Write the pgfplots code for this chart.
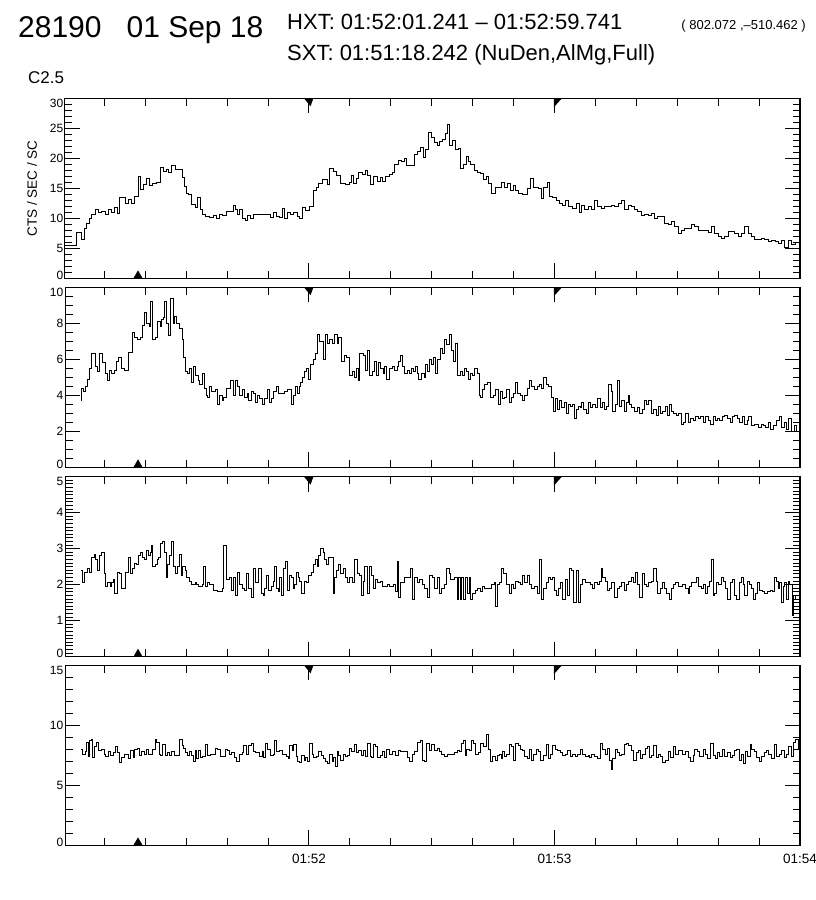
\documentclass[border=0pt]{standalone}
\usepackage{fontspec}
\setmainfont{Liberation Sans}
\usepackage{pgfplots}
\pgfplotsset{compat=1.18}

% x axis: seconds after 01:51:00
\newcommand\tickfont{\fontsize{12}{12}\selectfont}
\newcommand\ytop{6}
\pgfplotsset{
  hxt/.style={
    scale only axis, width=735pt, height=180pt, anchor=south west,
    xmin=0.4, xmax=180, ymin=0,
    xtick={60,120,180},
    minor xtick={10,20,30,40,50,70,80,90,100,110,130,140,150,160,170},
    xticklabels={},
    tick align=inside,
    major tick length=15pt, minor tick length=7.5pt,
    every tick/.style={black, line width=0.9pt},
    axis line style={line width=1pt},
    tick label style={font=\tickfont, /pgf/number format/assume math mode=true},
    yticklabel style={inner sep=1.5pt},
    yticklabel={\ifnum\ticknum=0\relax\raisebox{3pt}[\height][\depth]{\pgfmathprintnumber{\tick}}\else\ifnum\ticknum=\ytop\relax\raisebox{-5pt}[\height][\depth]{\pgfmathprintnumber{\tick}}\else\pgfmathprintnumber{\tick}\fi\fi},
    clip=false,
  },
  lc/.style={const plot, black, line width=1pt},
}

\begin{document}
\begin{tikzpicture}
\useasboundingbox (0,0) rectangle (816pt,-900pt);

\node[anchor=base west, inner sep=0, font=\fontsize{30}{30}\selectfont] at (18pt,-37pt) {28190~~~01 Sep 18};
\node[anchor=base west, inner sep=0, font=\fontsize{22}{22}\selectfont] at (287pt,-29pt) {HXT: 01:52:01.241 -- 01:52:59.741};
\node[anchor=base east, inner sep=0, font=\fontsize{13}{13}\selectfont] at (806pt,-29pt) {( 802.072 ,--510.462 )};
\node[anchor=base west, inner sep=0, font=\fontsize{22}{22}\selectfont] at (287pt,-60pt) {SXT: 01:51:18.242 (NuDen,AlMg,Full)};
\node[anchor=base west, inner sep=0, font=\fontsize{17}{17}\selectfont] at (28pt,-83pt) {C2.5};

% panel 1
\renewcommand\ytop{6}
\begin{axis}[hxt, at={(65pt,-278.3pt)}, ymax=30, ytick={0,5,...,30}, minor y tick num=4,
  ylabel={CTS / SEC / SC},
  ylabel style={at={(axis description cs:-0.045,0.5)}, anchor=center, font=\fontsize{13.5}{13.5}\selectfont}]
\addplot[lc] coordinates {
(0.4,5.55) (3.3,7.6) (4.5,6.4) (5.05,8.3) (5.7,9.2) (6.4,9.9) (6.9,10.6) (7.75,11.4) (8.6,10.9) (9.4,11.2)
(10.2,10.7) (11.0,11.5) (11.8,11.0) (12.6,11.8) (13.2,10.8) (13.7,13.5) (15.1,12.5) (15.9,13.2) (16.7,12.4) (17.3,13.6)
(18.4,16.9) (18.9,14.8) (19.6,15.7) (20.4,16.6) (21.1,15.4) (21.9,15.8) (22.7,16.0) (23.7,18.4) (24.5,17.8) (25.1,18.1)
(25.7,17.6) (26.5,18.8) (27.3,18.2) (29.0,16.8) (29.5,15.3) (30.0,14.2) (30.6,13.9) (31.4,12.3) (32.2,11.8) (32.8,13.5)
(33.5,11.4) (34.1,10.7) (34.7,10.3) (35.8,10.1) (36.7,10.4) (37.5,10.0) (38.2,10.6) (39.0,10.4) (39.8,11.1) (40.6,11.2)
(41.5,12.2) (42.0,11.4) (42.6,10.6) (43.1,11.5) (43.7,10.0) (44.5,9.6) (45.1,10.4) (45.7,10.0) (46.5,10.6) (48.2,10.7)
(49.8,10.6) (50.6,10.2) (51.3,10.9) (52.1,10.3) (52.9,10.2) (53.5,11.6) (54.0,10.0) (54.7,10.9) (55.5,10.7) (56.3,11.0)
(57.1,10.3) (57.8,10.0) (58.4,11.8) (59.2,11.3) (60.2,11.9) (61.2,14.6) (61.9,15.2) (62.4,15.8) (63.3,16.4) (63.9,16.5)
(64.5,15.6) (65.1,18.3) (65.9,17.8) (66.8,17.2) (67.8,15.8) (69.0,15.7) (69.8,15.9) (70.4,17.1) (71.0,15.8) (71.7,16.6)
(72.2,17.7) (73.1,17.3) (73.9,17.9) (74.4,17.2) (75.1,15.7) (75.9,16.9) (76.7,16.2) (77.4,16.8) (78.0,16.2) (78.8,16.9)
(79.6,17.3) (80.4,17.6) (81.0,18.9) (81.8,19.6) (82.6,19.4) (83.3,20.0) (83.9,18.8) (85.7,20.7) (86.5,21.1) (87.3,21.8)
(87.9,20.2) (88.4,21.5) (89.1,24.3) (90.0,23.5) (90.6,22.7) (91.3,22.2) (91.8,22.8) (92.7,23.2) (93.3,24.2) (93.9,25.6)
(94.4,22.2) (95.1,22.9) (95.7,21.4) (96.5,21.7) (97.1,18.3) (97.8,18.9) (98.4,20.3) (98.9,19.4) (99.6,18.9) (100.4,18.0)
(101.2,17.6) (102.0,17.5) (102.6,16.4) (103.3,16.9) (103.8,15.8) (104.7,14.2) (105.5,15.2) (106.5,15.1) (107.1,15.9) (107.8,15.2)
(108.6,15.8) (109.2,14.7) (110.0,15.5) (110.6,14.6) (111.2,14.2) (112.2,14.0) (113.3,14.9) (114.1,16.7) (114.9,15.1) (116.1,15.0)
(116.9,13.3) (117.4,15.1) (118.2,16.0) (118.9,13.7) (119.6,13.5) (120.4,12.9) (121.2,12.5) (122.0,12.2) (122.8,13.0) (123.4,12.0)
(124.5,11.7) (125.5,12.4) (126.1,10.9) (126.5,12.2) (127.4,11.4) (128.2,12.0) (129.0,11.4) (129.8,12.9) (130.6,12.0) (131.4,11.7)
(132.2,12.0) (133.1,11.9) (133.9,12.2) (134.7,12.0) (135.7,12.5) (136.3,12.9) (137.1,11.4) (138.0,12.2) (138.8,11.9) (139.6,11.4)
(140.4,11.1) (141.2,10.55) (142.0,10.7) (142.9,10.55) (143.7,10.8) (144.5,10.0) (145.3,10.3) (146.3,10.3) (146.9,9.2) (147.8,8.9)
(148.6,9.45) (149.4,8.6) (150.2,7.5) (151.0,8.0) (151.8,8.3) (152.7,8.3) (153.5,8.9) (154.3,8.6) (155.1,8.0) (156.7,8.0)
(157.6,7.7) (158.4,8.6) (159.2,7.5) (160.0,6.9) (160.8,6.6) (161.6,6.9) (162.5,7.8) (163.3,7.8) (164.1,7.5) (164.9,6.9)
(165.7,7.5) (166.4,8.6) (167.4,7.5) (168.2,6.9) (169.0,6.5) (169.8,6.4) (170.6,6.7) (171.4,6.5) (172.3,6.1) (173.1,6.3)
(173.9,6.1) (174.7,5.8) (175.5,6.3) (176.3,5.2) (177.1,6.3) (178.0,5.6) (178.8,5.9) (180,5.8)};
\addplot[only marks, mark=triangle*, mark size=5pt, black, every mark/.append style={yshift=2.5pt}] coordinates {(18.24,0)};
\addplot[fill=black, draw=none] coordinates {(58.8,30) (61.1,30) (60.4,28.67)};
\addplot[fill=black, draw=none] coordinates {(119.85,30) (121.8,30) (119.85,28.5)};
\draw[line width=2pt] (rel axis cs:1,0) -- (rel axis cs:1,1);
\end{axis}

% panel 2
\renewcommand\ytop{5}
\begin{axis}[hxt, at={(65pt,-467.3pt)}, ymax=10, ytick={0,2,...,10}, minor y tick num=3]
\addplot[lc] coordinates {
(4.3,3.7) (4.5,4.4) (4.9,4.2) (5.5,4.5) (5.95,4.9) (6.4,5.5) (6.9,6.3) (7.75,5.6) (8.3,5.3) (8.8,6.3)
(9.6,5.8) (10.3,5.2) (10.8,4.8) (11.3,5.4) (11.8,5.2) (12.4,5.4) (13.05,5.9) (13.5,6.1) (14.3,5.5) (14.85,5.4)
(16.0,6.4) (17.0,7.5) (17.5,7.2) (18.1,7.1) (18.8,7.2) (19.3,7.9) (19.8,8.6) (20.4,8.0) (21.0,7.8) (21.3,9.2)
(21.8,7.1) (22.5,7.2) (23.0,8.1) (23.7,7.8) (23.9,8.2) (24.5,8.3) (24.7,9.2) (25.3,8.0) (25.8,7.3) (26.2,9.4)
(26.8,8.0) (27.1,8.4) (27.75,8.0) (28.4,7.7) (29.0,7.1) (29.4,6.1) (29.8,5.3) (30.4,5.2) (30.8,5.5) (31.3,4.7)
(31.8,5.6) (32.4,5.1) (32.9,4.8) (33.3,4.6) (33.9,5.2) (34.45,4.4) (34.9,4.0) (35.3,3.9) (35.7,4.5) (36.3,4.2)
(37.1,4.3) (37.7,3.5) (38.2,4.0) (38.8,3.7) (39.2,3.9) (39.8,4.4) (40.8,4.8) (41.5,4.0) (42.0,4.8) (42.6,4.5)
(43.1,4.0) (43.7,4.3) (44.2,3.9) (44.9,4.1) (45.3,3.7) (45.9,4.2) (46.5,4.1) (46.9,3.6) (47.5,4.0) (48.0,3.8)
(48.6,3.5) (49.15,3.8) (49.8,4.3) (50.3,3.6) (50.8,3.8) (51.4,4.2) (52.0,4.5) (52.6,4.1) (54.0,4.2) (54.8,4.3)
(55.7,3.5) (56.2,4.0) (56.7,4.5) (57.3,4.1) (57.8,4.5) (58.0,4.7) (58.4,5.0) (59.0,5.3) (59.4,5.5) (60.0,4.9)
(60.4,5.7) (61.0,6.0) (61.5,6.3) (62.0,7.4) (62.7,7.0) (63.5,6.0) (64.1,7.4) (64.5,6.9) (65.1,7.1) (65.7,6.9)
(66.3,7.4) (66.9,6.9) (67.3,7.2) (67.9,5.9) (68.6,6.2) (69.2,6.1) (69.8,5.1) (70.6,5.3) (71.2,5.0) (71.7,5.5)
(72.0,4.8) (72.4,6.3) (73.3,6.2) (73.9,5.4) (74.3,6.5) (74.8,5.1) (75.5,5.3) (76.1,5.9) (76.6,5.1) (77.0,5.8)
(77.5,5.5) (78.2,5.2) (78.5,5.6) (79.0,4.9) (79.8,5.5) (80.4,5.6) (81.0,5.4) (81.6,5.6) (82.0,5.9) (82.4,6.2)
(82.9,5.6) (83.4,5.2) (84.1,5.4) (84.6,5.2) (85.1,5.5) (85.6,5.3) (86.1,5.6) (86.5,5.2) (86.9,4.9) (87.5,5.2)
(88.2,5.0) (88.4,5.7) (89.0,5.3) (89.5,6.0) (90.0,5.7) (90.5,6.1) (90.9,5.2) (91.4,6.0) (92.1,6.6) (92.7,6.3)
(93.2,7.1) (93.7,6.8) (94.3,7.4) (94.9,6.5) (95.3,5.9) (95.8,6.9) (96.3,5.1) (97.0,5.3) (97.5,5.1) (98.0,5.5)
(98.4,5.3) (98.9,4.9) (99.4,5.2) (100.0,5.1) (100.4,5.5) (101.1,5.2) (101.6,4.0) (102.0,3.9) (102.5,4.3) (103.0,4.6)
(103.7,4.7) (104.3,3.9) (105.1,4.0) (105.7,4.3) (106.3,3.5) (106.8,4.2) (107.3,3.8) (107.9,3.9) (108.4,4.3) (109.0,3.6)
(109.4,3.9) (110.0,4.1) (110.4,4.7) (111.0,4.1) (111.7,4.0) (112.2,3.7) (112.7,4.0) (113.3,4.4) (113.9,4.8) (114.4,4.5)
(115.1,4.3) (115.8,4.5) (116.3,4.6) (116.9,4.4) (117.4,5.0) (118.0,4.6) (118.5,4.5) (119.2,3.9) (119.8,3.1) (120.2,3.8)
(120.8,3.2) (121.2,3.7) (121.8,3.3) (122.4,3.6) (122.9,3.0) (123.4,3.5) (123.9,3.4) (124.5,3.5) (124.9,2.7) (125.4,3.2)
(125.9,3.4) (126.4,3.3) (126.5,3.6) (127.2,3.2) (127.8,3.0) (128.2,3.6) (128.8,3.3) (129.4,3.5) (130.0,3.3) (130.6,3.8)
(131.3,3.3) (131.8,3.6) (132.3,3.2) (132.8,3.4) (133.3,4.6) (133.9,4.2) (134.3,3.1) (134.9,3.5) (135.4,4.8) (135.9,3.4)
(136.3,3.7) (137.0,3.1) (137.6,3.6) (138.0,4.0) (138.4,3.5) (138.9,3.3) (139.6,3.1) (140.2,3.3) (140.8,3.0) (141.4,3.2)
(141.9,3.7) (142.5,3.5) (143.0,3.7) (143.7,3.0) (144.3,3.2) (144.9,2.9) (145.5,3.4) (146.0,3.0) (146.5,3.1) (147.1,3.4)
(147.6,2.9) (148.2,3.5) (148.7,3.1) (149.2,3.0) (149.8,2.9) (150.4,3.0) (151.0,2.4) (151.6,2.5) (152.1,3.0) (152.7,2.5)
(153.3,2.7) (153.9,2.6) (154.5,2.8) (155.1,2.7) (155.7,2.8) (156.3,2.5) (156.9,2.8) (157.6,2.6) (158.2,2.4) (158.8,2.8)
(159.4,2.6) (159.8,2.7) (160.4,2.6) (161.0,2.8) (161.6,2.9) (162.3,2.7) (162.9,2.5) (163.4,2.8) (164.1,2.9) (164.7,2.7)
(165.3,2.5) (165.9,2.8) (166.5,2.4) (167.1,2.6) (167.5,2.8) (168.2,2.3) (169.0,2.4) (169.8,2.2) (170.5,2.4) (171.0,2.3)
(171.6,2.2) (172.3,2.5) (172.9,2.1) (173.5,2.3) (174.3,2.6) (174.9,2.8) (175.5,2.2) (176.2,2.5) (176.7,2.1) (177.3,2.7)
(178.0,2.0) (178.6,2.3) (179.2,2.0) (180,2.2)};
\addplot[only marks, mark=triangle*, mark size=5pt, black, every mark/.append style={yshift=2.5pt}] coordinates {(18.24,0)};
\addplot[fill=black, draw=none] coordinates {(58.8,10) (61.1,10) (60.4,9.56)};
\addplot[fill=black, draw=none] coordinates {(119.85,10) (121.8,10) (119.85,9.5)};
\draw[line width=2pt] (rel axis cs:1,0) -- (rel axis cs:1,1);
\end{axis}

% panel 3
\renewcommand\ytop{5}
\begin{axis}[hxt, at={(65pt,-656.7pt)}, ymax=5, ytick={0,1,...,5}, minor y tick num=9]
\addplot[lc] coordinates {
(4.3,2.4) (4.6,2.05) (5.05,2.35) (5.9,2.45) (6.4,2.35) (6.9,2.75) (7.5,2.85) (7.9,2.7) (8.3,2.4) (8.8,2.8)
(9.4,2.9) (9.95,2.3) (10.4,1.95) (10.85,2.05) (11.4,1.95) (11.8,2.05) (12.2,2.15) (12.6,1.75) (13.2,2.35) (13.7,2.3)
(14.3,1.9) (15.1,2.35) (15.9,2.75) (16.5,2.3) (17.0,2.45) (17.4,2.6) (17.8,2.55) (18.4,2.8) (18.8,2.9) (19.3,2.75)
(19.8,2.7) (20.2,2.95) (20.8,2.8) (21.2,2.9) (21.6,3.1) (21.9,2.5) (22.5,2.55) (22.9,2.7) (23.3,2.75) (23.7,3.15)
(24.3,3.2) (24.7,2.9) (25.1,2.2) (25.5,2.55) (26.0,2.8) (26.5,3.2) (26.9,2.5) (27.3,2.3) (27.9,2.5) (28.4,2.85)
(28.8,2.25) (29.2,2.5) (29.8,2.4) (30.2,2.2) (30.9,2.1) (31.4,2.0) (32.2,2.05) (32.6,2.0) (33.05,1.95) (33.9,2.0)
(34.3,2.5) (34.7,1.95) (35.1,2.05) (35.7,2.0) (36.7,1.85) (37.7,1.82) (38.8,1.9) (39.2,3.1) (39.8,2.15) (40.6,2.2)
(41.05,1.85) (41.5,2.2) (42.0,1.7) (42.6,2.35) (43.1,2.0) (43.7,1.9) (44.2,1.85) (44.7,2.3) (45.3,1.9) (45.9,1.65)
(46.4,2.45) (47.0,2.05) (47.75,2.45) (48.3,1.75) (48.8,1.7) (49.2,1.9) (49.6,2.25) (50.2,1.85) (50.8,1.95) (51.3,2.1)
(51.6,2.5) (52.1,1.9) (52.5,1.8) (52.9,2.2) (53.3,1.7) (53.9,2.45) (54.4,2.65) (54.8,1.85) (55.3,2.25) (55.75,2.2)
(56.2,1.9) (56.6,2.0) (57.0,2.35) (57.4,2.2) (57.8,2.1) (58.2,1.75) (58.8,2.1) (59.4,2.05) (60.0,2.25) (60.6,2.35)
(61.2,2.55) (61.6,2.7) (62.0,2.5) (62.4,2.8) (62.8,3.0) (63.5,2.9) (63.9,2.7) (64.3,2.55) (64.7,2.75) (65.9,1.75)
(66.3,2.2) (66.8,2.4) (67.3,2.55) (67.75,2.3) (68.4,2.45) (69.0,2.2) (69.4,2.05) (70.0,2.2) (70.6,2.05) (71.25,2.7)
(71.8,2.3) (72.4,2.25) (72.8,1.7) (73.3,2.1) (73.7,2.5) (74.3,1.75) (74.7,2.5) (75.3,2.25) (75.75,1.9) (76.3,2.15)
(76.7,2.05) (77.4,2.1) (78.0,1.95) (79.2,2.0) (79.8,1.95) (80.6,2.0) (81.05,1.8) (81.6,2.65) (82.0,1.65) (82.4,2.05)
(83.3,2.2) (84.9,2.45) (85.4,1.6) (85.9,2.2) (86.5,2.05) (87.1,2.15) (87.7,2.0) (88.3,1.9) (89.0,1.65) (89.5,2.25)
(90.2,2.2) (90.8,1.9) (91.3,2.2) (91.8,1.75) (92.4,1.9) (93.1,2.0) (93.7,2.45) (94.3,2.3) (94.7,2.15) (95.5,2.2)
(96.2,1.6) (96.6,2.2) (97.0,1.6) (97.4,2.2) (97.8,1.6) (98.2,2.2) (98.8,1.75) (99.2,2.2) (99.6,1.6) (100.0,1.75)
(100.6,1.85) (101.2,1.9) (101.9,1.8) (102.5,1.95) (103.0,1.9) (104.1,1.9) (104.7,2.0) (105.3,2.05) (105.7,1.4) (106.1,2.0)
(106.5,2.05) (107.1,2.45) (107.6,2.3) (108.4,2.0) (109.0,1.75) (109.5,2.0) (110.0,1.9) (110.6,2.1) (111.2,2.05) (111.7,2.0)
(112.2,2.25) (112.8,2.05) (113.3,2.25) (113.9,2.0) (114.5,1.9) (115.1,1.95) (115.8,1.75) (116.3,2.7) (116.9,1.6) (117.4,1.9)
(118.0,2.05) (118.5,2.2) (119.0,2.15) (119.6,2.2) (120.0,1.85) (120.5,1.7) (121.0,1.9) (121.5,2.05) (122.0,1.6) (122.6,2.15)
(123.3,1.7) (123.7,2.45) (124.2,2.4) (124.7,1.5) (125.3,2.4) (125.9,1.5) (126.4,2.0) (126.9,2.15) (127.5,2.05) (128.8,2.0)
(129.4,1.9) (129.8,2.05) (130.5,2.0) (131.0,2.1) (131.4,2.45) (131.8,2.2) (132.4,2.1) (132.9,1.85) (133.5,1.9) (134.0,2.05)
(134.7,1.65) (135.3,1.9) (135.9,1.95) (136.5,2.05) (137.0,1.85) (137.5,2.0) (138.1,2.1) (138.8,2.2) (139.3,2.05) (139.8,2.35)
(140.2,2.0) (140.8,1.65) (141.4,2.3) (142.0,2.0) (142.5,1.95) (143.0,2.05) (143.7,2.1) (144.3,2.45) (144.9,2.1) (145.3,1.75)
(146.0,1.9) (146.5,2.05) (146.9,1.9) (147.3,1.75) (148.0,1.6) (148.6,1.9) (149.0,2.0) (149.6,2.05) (150.2,1.95) (151.4,2.0)
(152.0,1.9) (152.7,1.75) (153.1,1.95) (153.6,2.05) (154.7,2.2) (155.3,1.95) (155.9,1.9) (156.5,2.0) (156.9,1.75) (157.4,1.95)
(158.0,2.1) (158.4,2.7) (158.8,1.7) (159.2,1.75) (159.6,2.05) (160.2,2.0) (160.7,2.2) (161.2,2.1) (161.8,1.9) (162.3,1.6)
(162.9,2.05) (163.4,2.15) (163.9,1.7) (164.5,1.6) (165.1,2.05) (165.6,2.2) (166.1,2.0) (166.5,1.7) (167.1,2.1) (167.6,2.0)
(168.2,1.9) (168.7,1.6) (169.1,1.75) (169.6,2.05) (170.2,1.85) (170.8,1.8) (171.4,1.75) (172.0,1.8) (172.7,1.85) (173.2,1.8)
(173.7,2.2) (174.3,2.1) (174.7,1.9) (175.1,2.05) (175.5,1.5) (175.9,1.95) (176.3,2.05) (176.7,1.6) (177.1,2.1) (177.5,2.0)
(178.1,1.15) (178.5,1.7) (179.0,1.6) (180,1.65)};
\addplot[only marks, mark=triangle*, mark size=5pt, black, every mark/.append style={yshift=2.5pt}] coordinates {(18.24,0)};
\addplot[fill=black, draw=none] coordinates {(58.8,5) (61.1,5) (60.4,4.78)};
\addplot[fill=black, draw=none] coordinates {(119.85,5) (121.8,5) (119.85,4.75)};
\draw[line width=2pt] (rel axis cs:1,0) -- (rel axis cs:1,1);
\end{axis}

% panel 4
\renewcommand\ytop{3}
\begin{axis}[hxt, at={(65pt,-845.3pt)}, ymax=15, ytick={0,5,10,15}, minor y tick num=4,
  xticklabels={01:52,01:53,01:54},
  xticklabel style={font=\fontsize{13.5}{13.5}\selectfont, yshift=-5pt}]
\addplot[lc] coordinates {
(4.3,8.0) (4.7,7.6) (5.3,7.8) (5.7,8.6) (6.1,7.4) (6.4,8.7) (6.8,8.8) (7.2,7.3) (7.6,8.2) (8.0,8.6)
(8.6,7.9) (9.4,8.0) (10.0,7.6) (10.4,7.4) (11.0,7.8) (11.6,7.5) (12.2,7.7) (12.7,8.2) (13.2,7.7) (13.7,6.9)
(14.3,7.3) (14.85,7.6) (16.0,7.2) (16.5,7.9) (17.1,7.3) (17.5,8.0) (18.1,8.1) (18.6,7.5) (19.2,7.8) (19.75,7.6)
(20.4,8.0) (20.8,7.6) (21.9,8.0) (22.5,8.8) (22.85,8.6) (23.4,7.6) (23.8,7.5) (24.3,8.4) (24.9,7.5) (25.5,7.7)
(26.0,7.5) (26.5,7.8) (27.1,7.5) (28.4,8.8) (29.0,8.3) (29.4,8.1) (29.8,7.7) (30.4,7.5) (30.9,7.8) (31.4,7.5)
(31.8,7.0) (32.2,7.9) (32.65,7.2) (33.05,7.9) (33.6,7.3) (34.1,7.4) (34.7,8.4) (35.3,7.5) (35.9,7.6) (37.1,8.1)
(37.7,8.0) (38.4,7.4) (39.6,8.0) (40.0,7.9) (40.6,7.6) (41.2,7.7) (41.8,7.3) (42.4,7.0) (43.1,7.6) (43.7,7.7)
(44.1,8.3) (44.7,7.6) (45.3,8.3) (45.9,8.5) (46.4,7.8) (47.0,7.7) (47.9,7.4) (48.6,7.8) (49.0,7.3) (49.5,8.5)
(50.0,8.0) (50.6,7.5) (51.3,7.6) (51.7,8.7) (52.2,7.8) (52.9,7.9) (53.5,7.6) (54.5,7.4) (54.9,7.2) (55.35,8.3)
(55.9,7.9) (56.3,8.4) (56.9,7.4) (57.3,7.0) (57.8,6.9) (58.2,7.5) (58.8,7.1) (59.2,7.3) (59.6,7.0) (60.2,8.5)
(60.8,7.6) (61.2,7.3) (61.8,7.4) (62.4,7.8) (63.0,7.5) (63.5,7.2) (64.1,7.0) (64.6,6.8) (65.1,7.6) (65.7,7.0)
(66.1,7.3) (66.5,6.6) (66.9,7.8) (67.3,7.5) (67.75,7.1) (68.4,7.6) (69.0,7.4) (69.4,7.5) (69.8,8.1) (70.4,7.8)
(71.2,8.4) (71.7,7.7) (72.2,7.9) (72.8,7.5) (73.3,7.9) (73.9,7.4) (74.3,8.5) (75.0,7.4) (75.3,7.3) (75.75,8.4)
(76.3,8.2) (76.7,7.3) (77.4,7.5) (78.0,7.8) (78.5,7.3) (79.0,8.0) (79.6,7.6) (80.4,7.8) (81.2,7.5) (81.8,7.9)
(82.4,7.8) (84.1,7.3) (84.7,7.0) (85.3,7.6) (85.9,7.8) (86.5,8.6) (87.2,8.7) (87.8,7.1) (88.3,7.0) (88.8,8.5)
(89.4,7.9) (89.95,8.4) (90.6,7.9) (91.3,8.1) (91.8,7.8) (92.4,7.6) (93.1,7.4) (93.9,7.6) (95.5,7.7) (96.2,7.9)
(96.7,7.8) (97.3,8.5) (97.8,8.7) (98.2,7.5) (98.6,8.0) (99.2,7.9) (99.8,8.7) (100.25,8.5) (100.8,7.6) (101.4,7.7)
(102.0,8.5) (102.7,8.2) (103.3,9.2) (103.8,8.0) (104.3,7.0) (104.9,7.4) (105.5,7.1) (106.0,7.5) (106.5,7.6) (107.0,7.2)
(107.35,7.8) (107.9,7.4) (108.4,7.6) (109.0,8.4) (109.6,8.2) (110.0,7.1) (110.6,8.5) (111.2,8.3) (111.7,8.0) (112.2,7.9)
(112.8,7.4) (113.3,7.2) (113.9,8.0) (114.5,7.1) (114.9,7.6) (115.5,8.0) (116.1,7.8) (116.7,7.1) (117.4,7.5) (118.0,8.4)
(118.5,7.2) (119.0,7.6) (119.6,8.3) (120.2,8.0) (120.8,7.9) (121.5,7.7) (122.0,7.5) (122.6,7.6) (123.3,7.9) (123.9,7.4)
(124.5,7.6) (125.1,7.4) (125.7,7.6) (126.4,8.0) (126.9,7.6) (127.5,7.4) (128.2,7.5) (128.6,7.3) (129.1,7.6) (129.8,7.4)
(130.6,7.2) (131.3,8.5) (131.8,8.0) (132.4,7.6) (132.9,8.1) (133.5,7.1) (133.9,6.3) (134.3,7.2) (134.9,8.0) (135.4,7.7)
(136.0,7.5) (136.5,7.6) (137.0,8.4) (137.6,8.5) (138.1,8.3) (138.8,7.9) (139.4,7.1) (140.0,7.7) (140.6,7.9) (141.1,7.2)
(141.6,7.6) (142.2,8.1) (142.7,8.2) (143.3,7.3) (143.8,7.5) (144.3,8.3) (144.9,7.3) (145.5,7.6) (146.0,7.4) (146.5,6.9)
(147.1,7.1) (147.8,7.8) (148.4,7.3) (149.0,8.2) (149.6,7.6) (150.2,7.9) (151.4,7.6) (152.0,7.8) (152.7,7.3) (153.3,7.0)
(153.9,7.5) (154.3,8.0) (155.0,7.8) (155.5,7.4) (156.3,8.0) (156.9,7.6) (157.5,7.2) (158.2,8.5) (158.8,7.5) (159.3,7.2)
(159.8,7.7) (160.4,7.4) (161.0,8.0) (161.6,7.4) (162.3,7.7) (162.9,7.3) (163.4,7.5) (163.9,7.9) (164.5,8.0) (165.1,7.1)
(165.6,7.6) (166.1,6.8) (166.7,7.8) (167.2,7.4) (167.8,8.4) (168.2,8.0) (168.8,7.8) (169.4,7.3) (170.0,7.0) (170.6,7.4)
(171.3,7.7) (171.8,7.9) (172.4,7.6) (173.1,7.2) (173.7,8.4) (174.3,7.4) (174.9,7.6) (175.5,7.9) (176.2,7.3) (176.7,7.6)
(177.3,8.2) (177.8,7.4) (178.4,8.6) (179.0,8.8) (179.6,8.0) (180,8.2)};
\addplot[only marks, mark=triangle*, mark size=5pt, black, every mark/.append style={yshift=2.5pt}] coordinates {(18.24,0)};
\addplot[fill=black, draw=none] coordinates {(58.8,15) (61.1,15) (60.4,14.33)};
\addplot[fill=black, draw=none] coordinates {(119.85,15) (121.8,15) (119.85,14.25)};
\draw[line width=2pt] (rel axis cs:1,0) -- (rel axis cs:1,1);
\end{axis}
\end{tikzpicture}
\end{document}
